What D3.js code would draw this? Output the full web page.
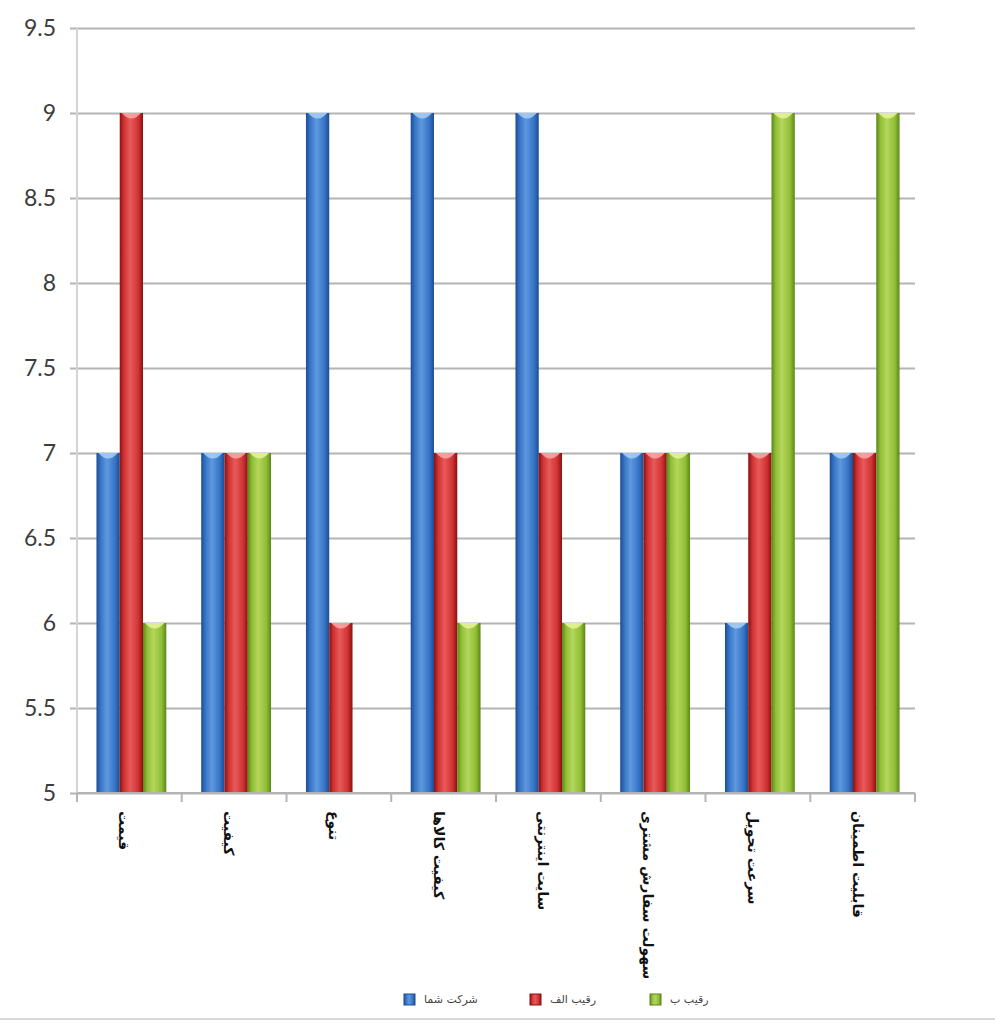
<!DOCTYPE html>
<html>
<head>
<meta charset="utf-8">
<script src="https://cdn.jsdelivr.net/npm/d3@7"></script>
<style>
  body { margin: 0; background: #fff; }
  svg { display: block; }
</style>
</head>
<body>
<div id="chart"></div>
<script>
// data
var categories = ["قیمت", "کیفیت", "تنوع", "کیفیت کالاها", "سایت اینترنتی", "سهولت سفارش مشتری", "سرعت تحویل", "قابلیت اطمینان"];
var seriesNames = ["شرکت شما", "رقیب الف", "رقیب ب"];
var yourCompany = [7, 7, 9, 9, 9, 7, 6, 7];
var rivalA = [9, 7, 6, 7, 7, 7, 7, 7];
var rivalB = [6, 7, 5, 6, 6, 7, 9, 9];
var yTicks = [5, 5.5, 6, 6.5, 7, 7.5, 8, 8.5, 9, 9.5];

var seriesValues = [yourCompany, rivalA, rivalB];
var colors = [
    { id: "g0", edge: "#1d4c92", mid: "#3674c6", light: "#5f98de", top: "#a9d0f5" },
    { id: "g1", edge: "#8a1010", mid: "#d03232", light: "#e85a5a", top: "#f7aaaa" },
    { id: "g2", edge: "#5c8618", mid: "#90be36", light: "#b4d65c", top: "#e6f59a" }
];

var width = 995, height = 1024;
var plot = { left: 77, right: 915, top: 28, bottom: 793 };

var svg = d3.select("#chart").append("svg")
    .attr("width", width)
    .attr("height", height);

// gradients for the cylinder-ish look
var defs = svg.append("defs");
colors.forEach(function (c) {
    var g = defs.append("linearGradient").attr("id", c.id)
        .attr("x1", "0%").attr("x2", "100%").attr("y1", "0%").attr("y2", "0%");
    g.append("stop").attr("offset", "0%").attr("stop-color", c.edge);
    g.append("stop").attr("offset", "18%").attr("stop-color", c.mid);
    g.append("stop").attr("offset", "45%").attr("stop-color", c.light);
    g.append("stop").attr("offset", "80%").attr("stop-color", c.mid);
    g.append("stop").attr("offset", "100%").attr("stop-color", c.edge);
});

var y = d3.scaleLinear().domain([5, 9.5]).range([plot.bottom, plot.top]);
var x = d3.scaleBand().domain(categories).range([plot.left, plot.right]);
var xs = d3.scaleBand().domain(d3.range(seriesNames.length))
    .range([0, x.bandwidth()]).paddingOuter(0.75);

// gridlines + y labels
var yAxis = d3.axisLeft(y).tickValues(yTicks).tickSize(-(plot.right - plot.left) - 7)
    .tickPadding(14).tickFormat(d3.format("~g"));
var gy = svg.append("g").attr("transform", "translate(" + plot.left + ",0)").call(yAxis);
gy.select(".domain").remove();
gy.selectAll(".tick line")
    .attr("x1", -7)
    .attr("x2", plot.right - plot.left)
    .attr("stroke", "#b4b4b4")
    .attr("stroke-width", 2);
gy.selectAll(".tick text")
    .attr("x", -21)
    .style("font-family", "Lato, 'Open Sans', sans-serif")
    .style("font-size", "23px")
    .style("fill", "#3c3c3c");

// vertical axis line
svg.append("line")
    .attr("x1", plot.left).attr("x2", plot.left)
    .attr("y1", plot.top).attr("y2", plot.bottom)
    .attr("stroke", "#d4d4d4").attr("stroke-width", 2);

// bars
var groups = svg.append("g").selectAll("g")
    .data(categories)
    .enter().append("g")
    .attr("transform", function (d) { return "translate(" + (x(d) + 2) + ",0)"; });

groups.each(function (cat, ci) {
    var g = d3.select(this);
    seriesValues.forEach(function (vals, si) {
        var v = vals[ci];
        var h = y(5) - y(v);
        if (h <= 0) return;
        var bx = xs(si), bw = xs.bandwidth();
        g.append("rect")
            .attr("x", bx).attr("y", y(v))
            .attr("width", bw).attr("height", h)
            .attr("fill", "url(#" + colors[si].id + ")");
        // top highlight
        g.append("path")
            .attr("d", "M" + (bx + 2) + "," + y(v) +
                " L" + (bx + bw - 2) + "," + y(v) +
                " Q" + (bx + bw / 2) + "," + (y(v) + 11) + " " + (bx + 2) + "," + y(v) + "Z")
            .attr("fill", colors[si].top)
            .attr("opacity", 0.85);
    });
});

// x axis line and ticks
svg.append("line")
    .attr("x1", plot.left).attr("x2", plot.right)
    .attr("y1", plot.bottom).attr("y2", plot.bottom)
    .attr("stroke", "#b4b4b4").attr("stroke-width", 2);

var boundaries = categories.map(function (d) { return x(d); }).concat([plot.right]);
svg.append("g").selectAll("line")
    .data(boundaries)
    .enter().append("line")
    .attr("x1", function (d) { return d; }).attr("x2", function (d) { return d; })
    .attr("y1", plot.bottom).attr("y2", plot.bottom + 9)
    .attr("stroke", "#b4b4b4").attr("stroke-width", 2);

// category labels, rotated
svg.append("g").selectAll("text")
    .data(categories)
    .enter().append("text")
    .attr("transform", function (d) {
        return "translate(" + (x(d) + x.bandwidth() / 2 - 6) + "," + (plot.bottom + 18) + ") rotate(90)";
    })
    .attr("text-anchor", "start")
    .attr("dominant-baseline", "middle")
    .style("font-family", "'DejaVu Sans', sans-serif")
    .style("font-size", "14px")
    .style("font-weight", "bold")
    .style("fill", "#111")
    .text(function (d) { return d; });

// legend
var legendX = [404, 530, 650];
var legend = svg.append("g").selectAll("g")
    .data(seriesNames)
    .enter().append("g")
    .attr("transform", function (d, i) { return "translate(" + legendX[i] + ",994)"; });
legend.append("rect")
    .attr("width", 11).attr("height", 11)
    .attr("fill", function (d, i) { return "url(#" + colors[i].id + ")"; })
    .attr("stroke", function (d, i) { return colors[i].edge; });
legend.append("text")
    .attr("x", 20).attr("y", 6)
    .attr("dominant-baseline", "middle")
    .style("font-family", "'DejaVu Sans', sans-serif")
    .style("font-size", "11px")
    .style("fill", "#444")
    .text(function (d) { return d; });

// bottom frame line
svg.append("line")
    .attr("x1", 0).attr("x2", width)
    .attr("y1", 1019).attr("y2", 1019)
    .attr("stroke", "#d8d8d8").attr("stroke-width", 2);
</script>
</body>
</html>
